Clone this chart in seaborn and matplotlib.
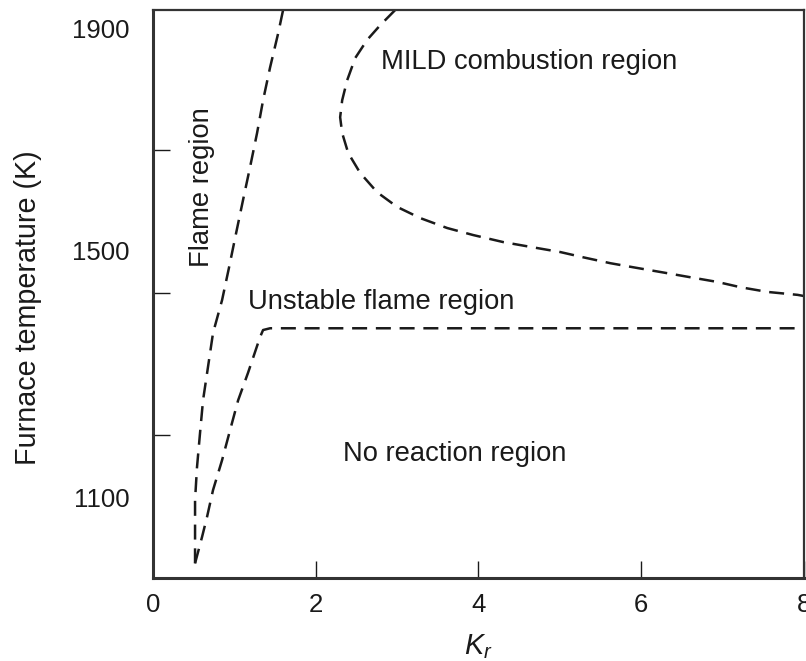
import matplotlib
matplotlib.use("Agg")
import matplotlib.pyplot as plt
import seaborn as sns
import pandas as pd

# ---- data ----
# Flame-region boundary (left dashed curve)
flame_k = [0.517, 0.517, 0.517, 0.541, 0.578, 0.615, 0.676, 0.738, 0.849, 0.935,
           1.021, 1.107, 1.193, 1.279, 1.353, 1.439, 1.538, 1.599]
flame_t = [987, 1039, 1095, 1151, 1209, 1265, 1322, 1380, 1436, 1492,
           1550, 1607, 1663, 1721, 1777, 1833, 1891, 1931]

# Unstable / no-reaction boundary
unstable_k = [0.517, 0.603, 0.664, 0.738, 0.849, 0.947, 1.046, 1.168, 1.316, 1.353, 1.439, 8.0]
unstable_t = [987, 1032, 1066, 1112, 1163, 1214, 1265, 1312, 1373, 1385, 1388, 1388]

# MILD combustion boundary
mild_k = [2.977, 2.792, 2.632, 2.485, 2.386, 2.325, 2.300, 2.325, 2.399, 2.546, 2.755,
          3.001, 3.284, 3.616, 3.936, 4.305, 4.674, 5.006, 5.289, 5.621, 5.904, 6.236,
          6.605, 6.937, 7.220, 7.552, 7.921, 8.0]
mild_t = [1931, 1905, 1880, 1849, 1811, 1777, 1748, 1721, 1687, 1653, 1620,
          1595, 1576, 1559, 1547, 1535, 1526, 1518, 1509, 1499, 1492, 1484,
          1475, 1467, 1458, 1450, 1445, 1443]

xtick_vals = [0, 2, 4, 6, 8]
ytick_labels = ["1100", "1500", "1900"]
ytick_label_pos = [1100, 1521, 1900]
ytick_marks = [1206, 1448, 1692]

region_labels = ["MILD combustion region", "Unstable flame region",
                 "No reaction region", "Flame region"]

# ---- style ----
sns.set_style("ticks")
plt.rcParams['font.family'] = ['Liberation Sans', 'DejaVu Sans']
plt.rcParams['mathtext.fontset'] = 'custom'
plt.rcParams['mathtext.it'] = 'Liberation Sans:italic'
plt.rcParams['mathtext.rm'] = 'Liberation Sans'

FS_TICK = 18.5
FS_REGION = 19.75
FS_LABEL = 20.7
ink = "#1a1a1a"

fig = plt.figure(figsize=(8.06, 6.61), dpi=100)
ax = fig.add_axes([0.1898, 0.1256, 0.9975 - 0.1898, 0.9849 - 0.1256])

dash = (6, 3.5)
for k, t in [(flame_k, flame_t), (unstable_k, unstable_t), (mild_k, mild_t)]:
    df = pd.DataFrame({"K": k, "T": t})
    sns.lineplot(data=df, x="K", y="T", sort=False, estimator=None, ax=ax,
                 color=ink, linewidth=1.8, dashes=False)
for line in ax.get_lines():
    line.set_dashes(dash)

ax.set_xlim(0, 8)
ax.set_ylim(962, 1931)

ax.set_xticks(xtick_vals)
ax.set_xticklabels([str(v) for v in xtick_vals])
ax.set_yticks(ytick_label_pos)
ax.set_yticklabels(ytick_labels)
ax.set_yticks(ytick_marks, minor=True)

ax.tick_params(axis="x", which="major", direction="in", length=12, width=1.0,
               color=ink, labelsize=FS_TICK, pad=11, labelcolor=ink)
ax.tick_params(axis="y", which="major", length=0, labelsize=FS_TICK, pad=17, labelcolor=ink)
ax.tick_params(axis="y", which="minor", direction="in", length=12, width=1.0, color=ink)

for side in ["left", "bottom"]:
    ax.spines[side].set_linewidth(2.2)
    ax.spines[side].set_color("#333333")
for side in ["top", "right"]:
    ax.spines[side].set_visible(True)
    ax.spines[side].set_linewidth(1.6)
    ax.spines[side].set_color("#333333")

ax.set_xlabel(r"$K_r$", fontsize=FS_LABEL, color=ink)
ax.xaxis.set_label_coords(0.499, -0.095)
ax.set_ylabel("Furnace temperature (K)", fontsize=FS_LABEL, color=ink)
ax.yaxis.set_label_coords(-0.1705, 0.475)

# region annotations
ax.text(4.62, 1842, region_labels[0], fontsize=FS_REGION, color=ink, ha="center", va="center")
ax.text(2.8, 1432, region_labels[1], fontsize=FS_REGION, color=ink, ha="center", va="center")
ax.text(3.71, 1173, region_labels[2], fontsize=FS_REGION, color=ink, ha="center", va="center")
ax.text(0.6, 1628, region_labels[3], fontsize=FS_REGION, color=ink, ha="center", va="center",
        rotation=90)

fig.savefig("out.png", dpi=100)
